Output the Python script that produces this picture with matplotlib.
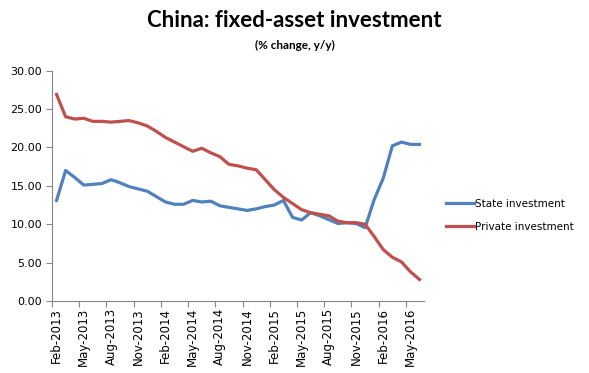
import matplotlib.pyplot as plt
from matplotlib.ticker import FixedLocator, FormatStrFormatter

# monthly, Feb-2013 .. Jun-2016
months = ['Feb-2013', 'Mar-2013', 'Apr-2013', 'May-2013', 'Jun-2013', 'Jul-2013',
          'Aug-2013', 'Sep-2013', 'Oct-2013', 'Nov-2013', 'Dec-2013', 'Jan-2014',
          'Feb-2014', 'Mar-2014', 'Apr-2014', 'May-2014', 'Jun-2014', 'Jul-2014',
          'Aug-2014', 'Sep-2014', 'Oct-2014', 'Nov-2014', 'Dec-2014', 'Jan-2015',
          'Feb-2015', 'Mar-2015', 'Apr-2015', 'May-2015', 'Jun-2015', 'Jul-2015',
          'Aug-2015', 'Sep-2015', 'Oct-2015', 'Nov-2015', 'Dec-2015', 'Jan-2016',
          'Feb-2016', 'Mar-2016', 'Apr-2016', 'May-2016', 'Jun-2016']

state = [13.1, 17.0, 16.1, 15.1, 15.2, 15.3, 15.8, 15.4, 14.9, 14.6, 14.3, 13.6,
         12.9, 12.6, 12.6, 13.1, 12.9, 13.0, 12.4, 12.2, 12.0, 11.8, 12.0, 12.3,
         12.5, 13.1, 10.9, 10.55, 11.5, 11.1, 10.6, 10.1, 10.2, 10.1, 9.55, 13.2,
         16.0, 20.2, 20.7, 20.4, 20.4]

private = [26.9, 24.0, 23.7, 23.8, 23.4, 23.4, 23.3, 23.4, 23.5, 23.2, 22.8, 22.1,
           21.3, 20.7, 20.1, 19.5, 19.9, 19.3, 18.8, 17.8, 17.6, 17.3, 17.1, 15.8,
           14.5, 13.5, 12.7, 11.9, 11.5, 11.3, 11.1, 10.4, 10.2, 10.2, 10.0, 8.4,
           6.7, 5.7, 5.1, 3.8, 2.8]

x = list(range(len(months)))

fig = plt.figure(figsize=(5.89, 3.73), dpi=100)
ax = fig.add_axes([0.0883, 0.193, 0.6317, 0.6175])

ax.plot(x, state, color='#4F81BD', lw=2.3, label='State investment')
ax.plot(x, private, color='#C0504D', lw=2.3, label='Private investment')

ax.set_xlim(-0.5, len(months) - 0.5)
ax.set_ylim(0, 30)
ax.set_yticks(range(0, 31, 5))
ax.yaxis.set_major_formatter(FormatStrFormatter('%.2f'))

# labels every 3 months, tick marks between categories
ax.xaxis.set_major_locator(FixedLocator(x[::3]))
ax.set_xticklabels(months[::3], rotation=90)
ax.xaxis.set_minor_locator(FixedLocator([i - 0.5 for i in x[::3]]))
ax.tick_params(axis='x', which='major', length=0, pad=5, labelsize=8.5)
ax.tick_params(axis='x', which='minor', length=4, color='#868686', width=0.8)
ax.tick_params(axis='y', length=4, color='#868686', width=0.8, labelsize=8, pad=3)

for side in ['top', 'right']:
    ax.spines[side].set_visible(False)
for side in ['left', 'bottom']:
    ax.spines[side].set_color('#868686')
    ax.spines[side].set_linewidth(0.8)

ax.legend(loc='center left', bbox_to_anchor=(1.033, 0.373), frameon=False,
          fontsize=7.5, handlelength=2.7, handletextpad=0.15, labelspacing=1.25)

fig.text(0.5, 0.945, 'China: fixed-asset investment', ha='center', va='center',
         fontsize=16, fontweight='bold', family='Lato')
fig.text(0.5, 0.877, '(% change, y/y)', ha='center', va='center',
         fontsize=8.5, fontweight='bold', family='Lato')

fig.savefig('out.png', dpi=100)
